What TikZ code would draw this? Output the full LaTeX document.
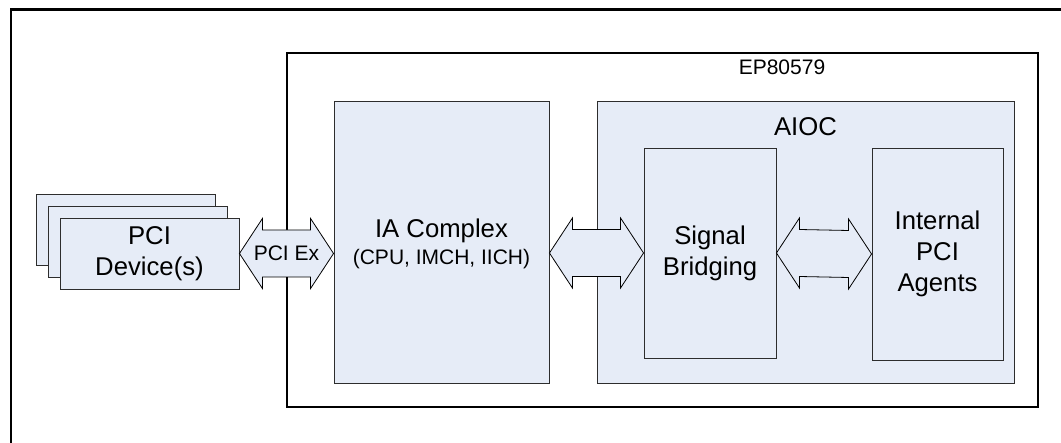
\documentclass[tikz,border=0pt]{standalone}
\usepackage{fontspec}
\setmainfont{Liberation Sans}
\usetikzlibrary{calc}
\definecolor{boxblue}{RGB}{230,236,247}
\definecolor{edgegray}{RGB}{45,45,45}
\newcommand{\bigf}{\fontsize{25.7}{30.8}\selectfont}
\newcommand{\smallf}{\fontsize{21}{26}\selectfont}
% wide two-headed arrow between two points
\newcommand{\dblarrow}[2]{%
  \draw[biarrow] (#1) -- ($(#1)+(23,-35)$) -- ($(#1)+(23,-23.5)$)
    -- ($(#2)+(-23,-23.5)$) -- ($(#2)+(-23,-35)$) -- (#2)
    -- ($(#2)+(-23,35)$) -- ($(#2)+(-23,23.5)$)
    -- ($(#1)+(23,23.5)$) -- ($(#1)+(23,35)$) -- cycle;}
\begin{document}
\begin{tikzpicture}[x=1pt,y=-1pt,
    box/.style={draw=edgegray,fill=boxblue,line width=0.9pt,inner sep=0pt,align=center,font=\bigf},
    biarrow/.style={draw=black,fill=boxblue,line width=0.8pt,line join=miter},
    lbl/.style={inner sep=0pt}]
  \useasboundingbox (0,0) rectangle (1061,443);
  \clip (0,0) rectangle (1061,443);
  % page frame
  \draw[line width=2.3pt] (11.2,9.5) rectangle (1090,470);
  % chip outline
  \node[draw=black,fill=white,line width=1.1pt,minimum width=751,minimum height=354,inner sep=0pt] (ep) at (662.5,230) {};
  \node[lbl,font=\smallf] (eplabel) at (782,67) {EP80579};
  % PCI devices
  \node[box,minimum width=179,minimum height=71] (dev3) at (125.5,229.5) {};
  \node[box,minimum width=179,minimum height=71] (dev2) at (137.5,241.5) {};
  \node[box,minimum width=179,minimum height=71] (dev) at (149.5,253.5) {PCI\\Device(s)};
  % IA complex
  \node[box,minimum width=215,minimum height=282] (ia) at (441.5,242) {};
  \node[lbl,anchor=base,font=\bigf] (ialabel) at (441.5,237.5) {IA Complex};
  \node[lbl,anchor=base,font=\smallf] (iasub) at (441.5,265) {(CPU, IMCH, IICH)};
  % AIOC
  \node[box,minimum width=417,minimum height=282] (aioc) at (805.5,242) {};
  \node[lbl,font=\bigf] (aioclabel) at (805.5,127) {AIOC};
  \node[box,minimum width=132,minimum height=210] (sb) at (710,253) {Signal\\Bridging};
  \node[box,minimum width=131,minimum height=212] (pa) at (937.5,254) {Internal\\PCI\\Agents};
  % connectors
  \coordinate (iaw) at (ia.west |- dev.east);
  \coordinate (iae) at (ia.east |- sb.west);
  \dblarrow{dev.east}{iaw}
  \dblarrow{iae}{sb.west}
  \dblarrow{sb.east}{pa.west}
  \node[lbl,font=\smallf] (pciex) at ($(dev.east)!0.5!(iaw)$) {PCI Ex};
\end{tikzpicture}
\end{document}
